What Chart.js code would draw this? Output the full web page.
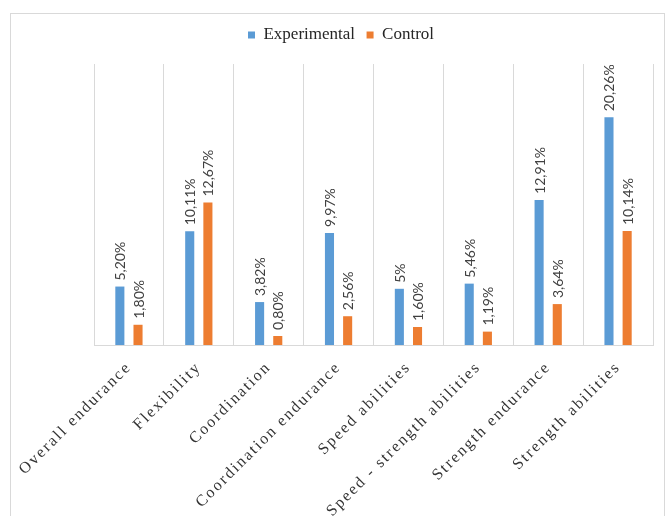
<!DOCTYPE html>
<html>
<head>
<meta charset="utf-8">
<script src="https://cdn.jsdelivr.net/npm/chart.js@4"></script>
<style>
    body { margin: 0; background: #fff; }
    #wrap { position: relative; width: 666px; height: 516px; overflow: hidden; }
    #myChart { position: absolute; left: 0; top: 0; }
    #frame { position: absolute; left: 10px; top: 13px; width: 655px; height: 600px; border: 1px solid #d9d9d9; box-sizing: border-box; pointer-events: none; }
</style>
</head>
<body>
<div id="wrap">
    <canvas id="myChart" width="666" height="516"></canvas>
    <div id="frame"></div>
</div>
<script>
// Данные диаграммы
let categories = ['Overall endurance', 'Flexibility', 'Coordination', 'Coordination endurance',
    'Speed abilities', 'Speed - strength abilities', 'Strength endurance', 'Strength abilities'];
let experimental = [5.20, 10.11, 3.82, 9.97, 5.00, 5.46, 12.91, 20.26];
let control = [1.80, 12.67, 0.80, 2.56, 1.60, 1.19, 3.64, 10.14];
let experimentalLabels = ['5,20%', '10,11%', '3,82%', '9,97%', '5%', '5,46%', '12,91%', '20,26%'];
let controlLabels = ['1,80%', '12,67%', '0,80%', '2,56%', '1,60%', '1,19%', '3,64%', '10,14%'];
let yMax = 25;

// Подписи над столбцами (повернуты вертикально)
let barLabelsPlugin = {
    id: 'barLabels',
    afterInit(chart) {
        // фиксированная высота легенды, чтобы область графика начиналась ниже
        let legend = chart.legend;
        let fit = legend.fit;
        legend.fit = function () {
            fit.call(this);
            this.height = 49;
        };
    },
    afterDatasetsDraw(chart) {
        let ctx = chart.ctx;
        let texts = [experimentalLabels, controlLabels];
        ctx.save();
        ctx.font = '14px Lato';
        ctx.fillStyle = '#404040';
        ctx.textAlign = 'left';
        ctx.textBaseline = 'middle';
        chart.data.datasets.forEach((ds, i) => {
            chart.getDatasetMeta(i).data.forEach((bar, j) => {
                ctx.save();
                ctx.translate(bar.x + 1, bar.y - 6);
                ctx.rotate(-Math.PI / 2);
                ctx.fillText(texts[i][j], 0, 0);
                ctx.restore();
            });
        });
        ctx.restore();
        // подписи оси X рисуются после столбцов (z: 1), у них разреженный шрифт
        ctx.letterSpacing = '2px';
    },
    afterDraw(chart) {
        chart.ctx.letterSpacing = '0px';
    }
};

let ctx = document.getElementById('myChart').getContext('2d');
let myChart = new Chart(ctx, {
    type: 'bar',
    data: {
        labels: categories,
        datasets: [{
            label: 'Experimental',
            data: experimental,
            backgroundColor: '#5b9bd5',
            categoryPercentage: 0.52,
            barPercentage: 0.5
        }, {
            label: 'Control',
            data: control,
            backgroundColor: '#ed7d31',
            categoryPercentage: 0.52,
            barPercentage: 0.5
        }]
    },
    options: {
        responsive: false,
        animation: false,
        layout: { padding: { left: 29, right: 13, top: 15, bottom: 0 } },
        plugins: {
            legend: {
                position: 'top',
                labels: {
                    boxWidth: 7,
                    boxHeight: 7,
                    padding: 11.5,
                    color: '#262626',
                    font: { family: 'Liberation Serif', size: 17 }
                }
            },
            tooltip: { enabled: false }
        },
        scales: {
            x: {
                grid: { color: '#d9d9d9', drawTicks: false, offset: true },
                border: { color: '#d9d9d9' },
                ticks: {
                    minRotation: 45,
                    maxRotation: 45,
                    autoSkip: false,
                    padding: 13,
                    z: 1,
                    color: '#333333',
                    font: { family: 'Liberation Serif', size: 16 }
                },
                afterFit: function (scale) {
                    scale.height = 171;
                    scale.paddingLeft = 0;
                    scale.paddingRight = 0;
                }
            },
            y: {
                min: 0,
                max: yMax,
                grid: { display: false },
                border: { display: false },
                ticks: { display: false },
                afterFit: function (scale) {
                    scale.width = 65;
                }
            }
        }
    },
    plugins: [barLabelsPlugin]
});
</script>
</body>
</html>
